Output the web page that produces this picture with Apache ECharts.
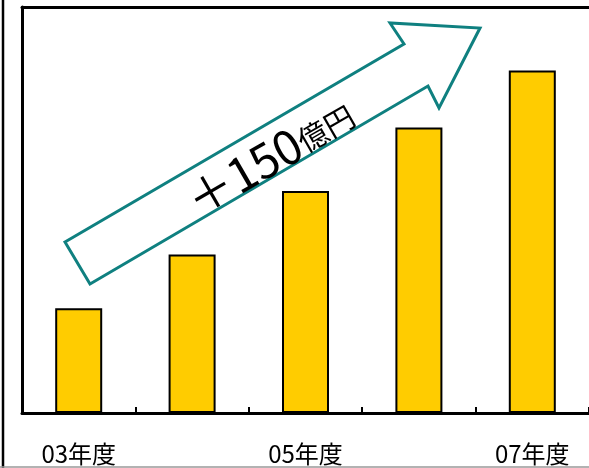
<!DOCTYPE html>
<html>
<head>
<meta charset="utf-8">
<script src="https://cdn.jsdelivr.net/npm/echarts@6/dist/echarts.min.js"></script>
<style>
html,body{margin:0;padding:0;background:#fff;}
#chart{width:589px;height:468px;}
</style>
</head>
<body>
<div id="chart"></div>
<script>
// Data
const categories = ['03年度', '04年度', '05年度', '06年度', '07年度'];
const salesValues = [66, 100, 140, 180, 216];
const growthLabelNumber = '＋150';
const growthLabelUnit = '億円';

// Decorative arrow outline (annotation, pixel space)
const arrowPoints = [[65,242],[90,284],[428,86],[439,108],[480,28],[390,23],[404,44]];

const chart = echarts.init(document.getElementById('chart'), null, {renderer: 'canvas'});
chart.setOption({
  animation: false,
  backgroundColor: '#ffffff',
  grid: {left: 22, top: 7, right: -1, bottom: 55, show: false},
  xAxis: [{
    type: 'category',
    data: categories,
    boundaryGap: true,
    axisLine: {show: true, lineStyle: {color: '#000', width: 3}},
    axisTick: {show: true, inside: true, length: 6, interval: 0, lineStyle: {color: '#000', width: 2}},
    axisLabel: {
      interval: 1, margin: 29, color: '#000', fontSize: 24,
      fontFamily: '"Noto Sans CJK JP", sans-serif'
    },
    splitLine: {show: false}
  }, {
    type: 'category',
    position: 'top',
    data: categories,
    axisLine: {show: true, lineStyle: {color: '#000', width: 3}},
    axisTick: {show: false},
    axisLabel: {show: false},
    splitLine: {show: false}
  }],
  yAxis: {
    type: 'value', min: 0, max: 256,
    axisLine: {show: true, lineStyle: {color: '#000', width: 3}},
    axisTick: {show: false},
    axisLabel: {show: false},
    splitLine: {show: false}
  },
  series: [{
    type: 'bar',
    data: salesValues,
    barWidth: 47,
    itemStyle: {color: '#FFCC00', borderColor: '#000', borderWidth: 2}
  }],
  graphic: [
    {type: 'line', shape: {x1: 3, y1: 0, x2: 3, y2: 468}, style: {stroke: '#000', lineWidth: 2.5}},
    {type: 'line', shape: {x1: 0, y1: 467, x2: 589, y2: 467}, style: {stroke: '#999', lineWidth: 1.5}},
    {type: 'polygon', shape: {points: arrowPoints}, style: {fill: '#fff', stroke: '#0f8080', lineWidth: 3, lineJoin: 'miter'}, z: 10},
    {
      type: 'text', x: 270, y: 157, rotation: Math.PI / 6, z: 11,
      style: {
        text: '{a|' + growthLabelNumber + '}{b|' + growthLabelUnit + '}',
        align: 'center', verticalAlign: 'middle',
        fontFamily: '"Noto Sans CJK JP", sans-serif',
        fill: '#000',
        rich: {
          a: {fontSize: 47, fill: '#000', verticalAlign: 'bottom', fontFamily: '"Noto Sans CJK JP", sans-serif'},
          b: {fontSize: 30, fill: '#000', verticalAlign: 'bottom', padding: [0,0,5,0], fontFamily: '"Noto Sans CJK JP", sans-serif'}
        }
      }
    }
  ]
});
</script>
</body>
</html>
